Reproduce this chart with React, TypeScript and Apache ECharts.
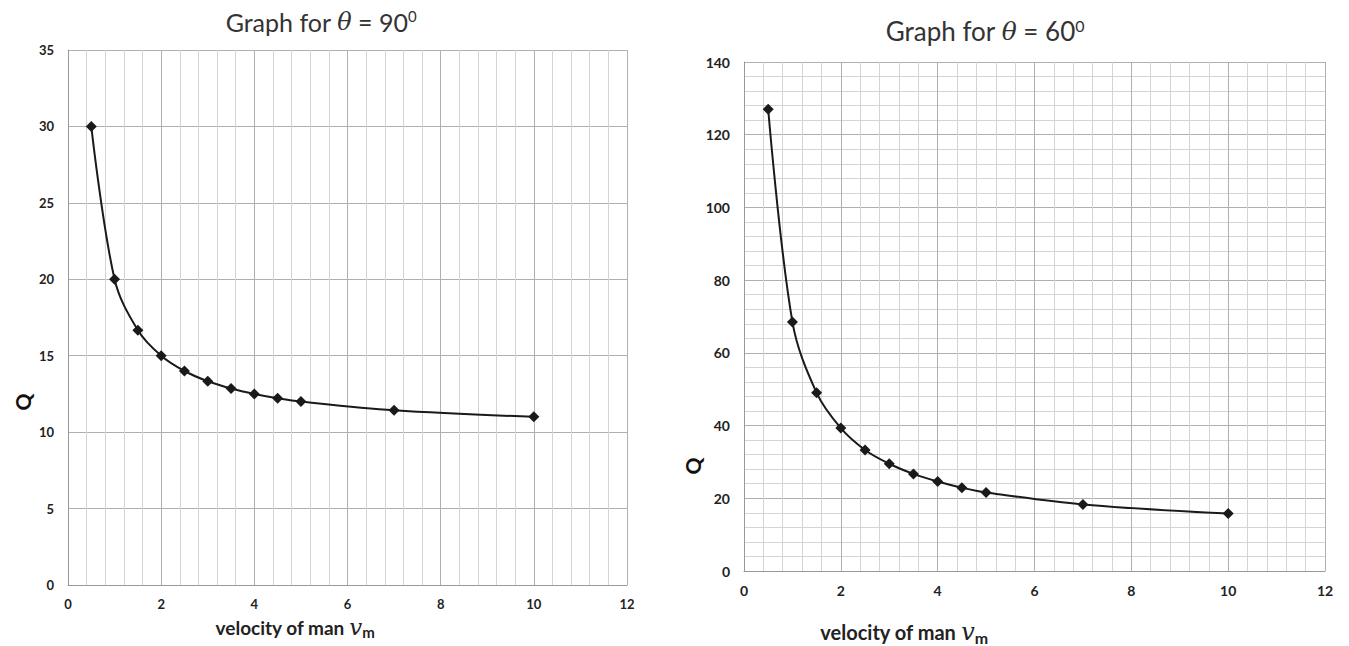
import React, { useEffect, useRef } from "react";
import * as echarts from "echarts";

const velocity90: number[] = [0.5, 1, 1.5, 2, 2.5, 3, 3.5, 4, 4.5, 5, 7, 10];
const q90: number[] = [30, 20, 16.67, 15, 14, 13.33, 12.86, 12.5, 12.22, 12, 11.43, 11];
const velocity60: number[] = [0.5, 1, 1.5, 2, 2.5, 3, 3.5, 4, 4.5, 5, 7, 10];
const q60: number[] = [127, 68.5, 49, 39.3, 33.3, 29.5, 26.7, 24.6, 22.9, 21.6, 18.3, 15.8];

const title90 = "Graph for {i|θ} = 90{s|0}";
const title60 = "Graph for {i|θ} = 60{s|0}";
const xName = "velocity of man {v|v}{m|m}";
const yName = "Q";

const FONT = "Lato";

export default function App() {
  const ref = useRef<HTMLDivElement>(null);
  useEffect(() => {
    document.body.style.margin = "0";
    const chart = echarts.init(ref.current!, null, { renderer: "svg" });
    const titleRich = (size: number) => ({
      i: { fontFamily: "DejaVu Serif", fontStyle: "italic", fontSize: size - 1, color: "#333" },
      s: { fontFamily: FONT, fontSize: size - 10, color: "#333", verticalAlign: "top", padding: [0, 0, 12, 0] },
    });
    const xRich = (size: number) => ({
      v: { fontFamily: "DejaVu Serif", fontStyle: "italic", fontSize: size + 4, color: "#222", fontWeight: "normal" },
      m: { fontFamily: FONT, fontWeight: "bold", fontSize: size - 4, color: "#222", padding: [10, 0, 0, 0] },
    });
    const mkX = (gridIndex: number, fs: number) => ({
      type: "value",
      gridIndex,
      min: 0,
      max: 12,
      interval: 2,
      axisLine: { show: true, lineStyle: { color: "#999", width: 1 } },
      axisTick: { show: false },
      axisLabel: { fontFamily: FONT, fontWeight: "bold", fontSize: fs, color: "#222", margin: 12 },
      splitLine: { show: true, lineStyle: { color: "#b0b0b0", width: 1 } },
      minorTick: { show: false, splitNumber: 5 },
      minorSplitLine: { show: true, lineStyle: { color: "#d4d4d4", width: 1 } },
    });
    const mkY = (gridIndex: number, max: number, interval: number, fs: number, minor: boolean) => ({
      type: "value",
      gridIndex,
      min: 0,
      max,
      interval,
      axisLine: { show: true, lineStyle: { color: "#999", width: 1 } },
      axisTick: { show: false },
      axisLabel: { fontFamily: FONT, fontWeight: "bold", fontSize: fs, color: "#222", margin: 14 },
      splitLine: { show: true, lineStyle: { color: "#b0b0b0", width: 1 } },
      minorTick: { show: false, splitNumber: 5 },
      minorSplitLine: { show: minor, lineStyle: { color: "#d4d4d4", width: 1 } },
    });
    const seriesStyle = {
      type: "line",
      smooth: 0.35,
      symbol: "diamond",
      symbolSize: 11,
      lineStyle: { color: "#1a1a1a", width: 2 },
      itemStyle: { color: "#1a1a1a" },
    };
    chart.setOption({
      animation: false,
      backgroundColor: "#fff",
      title: [
        {
          text: title90,
          left: 316,
          top: 3,
          textAlign: "center",
          textStyle: { fontFamily: FONT, fontWeight: "normal", fontSize: 25, color: "#333", rich: titleRich(25) },
        },
        {
          text: title60,
          left: 980,
          top: 12,
          textAlign: "center",
          textStyle: { fontFamily: FONT, fontWeight: "normal", fontSize: 26, color: "#333", rich: titleRich(26) },
        },
      ],
      grid: [
        { left: 68, right: 722, top: 50, bottom: 61 },
        { left: 744, right: 24, top: 62, bottom: 75 },
      ],
      xAxis: [mkX(0, 13), mkX(1, 14)],
      yAxis: [mkY(0, 35, 5, 13, false), mkY(1, 140, 20, 14, true)],
      series: [
        { ...seriesStyle, xAxisIndex: 0, yAxisIndex: 0, data: velocity90.map((v, i) => [v, q90[i]]) },
        { ...seriesStyle, xAxisIndex: 1, yAxisIndex: 1, data: velocity60.map((v, i) => [v, q60[i]]) },
      ],
      graphic: [
        {
          type: "text",
          x: 295,
          y: 627,
          style: {
            text: xName,
            align: "center",
            verticalAlign: "middle",
            font: `bold 19px ${FONT}`,
            fill: "#222",
            rich: xRich(19),
          },
        },
        {
          type: "text",
          x: 904,
          y: 632,
          style: {
            text: xName,
            align: "center",
            verticalAlign: "middle",
            font: `bold 20px ${FONT}`,
            fill: "#222",
            rich: xRich(20),
          },
        },
        {
          type: "text",
          x: 22,
          y: 402,
          rotation: Math.PI / 2,
          style: {
            text: yName,
            align: "center",
            verticalAlign: "middle",
            font: `bold 21px ${FONT}`,
            fill: "#111",
          },
        },
        {
          type: "text",
          x: 692,
          y: 466,
          rotation: Math.PI / 2,
          style: {
            text: yName,
            align: "center",
            verticalAlign: "middle",
            font: `bold 21px ${FONT}`,
            fill: "#111",
          },
        },
      ],
    });
    return () => chart.dispose();
  }, []);
  return <div ref={ref} style={{ width: 1349, height: 646 }} />;
}
